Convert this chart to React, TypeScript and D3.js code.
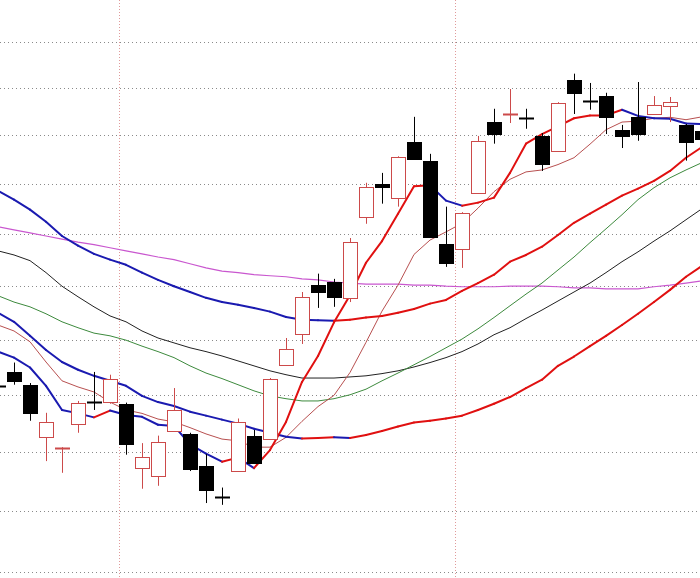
import React from "react";
import * as d3 from "d3";

const W = 700;
const H = 578;

// horizontal grid prices (log scale)
const gridPrices = [27, 28, 29, 30, 31, 32, 33, 34, 35, 36, 37];
// candle indices where a new month starts (vertical separators)
const monthStarts = [8, 29];

// OHLC
const open = [30.16, 30.41, 30.18, 29.26, 29.06, 29.49, 29.87, 29.87, 29.84, 28.73, 28.59, 29.36, 29.31, 28.76, 28.23, 28.67, 29.28, 29.22, 30.54, 31.11, 32.02, 32.08, 31.78, 33.35, 34.01, 33.73, 34.87, 34.48, 32.82, 32.72, 33.83, 35.28, 35.44, 35.37, 34.99, 34.68, 36.18, 35.73, 35.83, 35.12, 35.39, 35.45, 35.62, 35.22, 35.09];
const high = [30.20, 30.58, 30.21, 29.68, 29.08, 29.89, 30.41, 30.36, 29.86, 29.15, 29.28, 30.12, 29.33, 28.96, 28.39, 29.58, 29.38, 30.30, 31.03, 31.89, 32.24, 32.14, 32.93, 34.03, 34.23, 34.57, 35.39, 34.62, 33.55, 33.44, 34.99, 35.56, 35.98, 35.56, 35.05, 35.70, 36.31, 36.11, 35.90, 35.22, 36.13, 35.83, 35.81, 35.24, 35.14];
const low = [30.10, 30.18, 29.54, 28.84, 28.64, 29.33, 29.73, 29.84, 28.95, 28.37, 28.42, 29.35, 28.67, 28.13, 28.10, 28.66, 28.79, 29.21, 30.53, 30.92, 31.59, 31.61, 31.70, 33.21, 33.61, 33.55, 34.51, 32.94, 32.37, 32.35, 33.82, 34.83, 35.26, 35.14, 34.27, 34.67, 35.45, 35.54, 35.03, 34.74, 34.89, 35.44, 35.28, 34.48, 34.80];
const close = [30.16, 30.25, 29.68, 29.52, 29.07, 29.86, 29.87, 30.29, 29.14, 28.91, 29.17, 29.73, 28.71, 28.35, 28.23, 29.52, 28.81, 30.29, 30.83, 31.80, 31.89, 31.80, 32.85, 33.95, 33.95, 34.56, 34.52, 32.95, 32.45, 33.43, 34.89, 35.03, 35.45, 35.37, 34.42, 35.69, 35.90, 35.73, 35.39, 34.99, 35.03, 35.64, 35.71, 34.87, 34.93];

// moving averages
const maFast = [30.78, 30.67, 30.49, 30.16, 29.73, 29.67, 29.60, 29.72, 29.64, 29.61, 29.47, 29.45, 29.13, 28.97, 28.83, 28.90, 28.72, 29.03, 29.52, 30.23, 30.70, 31.32, 31.83, 32.45, 32.87, 33.41, 33.96, 33.98, 33.67, 33.57, 33.63, 33.73, 34.23, 34.83, 35.03, 35.19, 35.36, 35.42, 35.42, 35.54, 35.41, 35.36, 35.35, 35.25, 35.24];
const maTen = [31.27, 31.16, 30.96, 30.59, 30.25, 30.14, 30.05, 29.87, 29.73, 29.67, 29.57, 29.52, 29.42, 29.31, 29.22, 29.19, 29.08, 29.08, 29.25, 29.53, 29.79, 29.99, 30.40, 30.95, 31.53, 32.02, 32.61, 32.89, 33.05, 33.22, 33.52, 33.85, 34.10, 34.25, 34.29, 34.40, 34.54, 34.82, 35.12, 35.28, 35.30, 35.36, 35.38, 35.33, 35.39];
const maLow = [31.50, 31.33, 31.07, 30.81, 30.59, 30.45, 30.34, 30.25, 30.16, 29.98, 29.87, 29.80, 29.70, 29.63, 29.56, 29.49, 29.40, 29.33, 29.26, 29.23, 29.24, 29.25, 29.24, 29.29, 29.36, 29.44, 29.51, 29.54, 29.58, 29.63, 29.73, 29.84, 29.96, 30.12, 30.27, 30.52, 30.69, 30.88, 31.07, 31.27, 31.48, 31.70, 31.93, 32.18, 32.39];
const maHigh = [33.87, 33.69, 33.49, 33.25, 32.97, 32.78, 32.62, 32.51, 32.41, 32.26, 32.12, 32.00, 31.89, 31.78, 31.70, 31.65, 31.59, 31.52, 31.42, 31.37, 31.36, 31.35, 31.37, 31.41, 31.44, 31.50, 31.57, 31.67, 31.74, 31.91, 32.06, 32.22, 32.47, 32.60, 32.76, 32.99, 33.23, 33.41, 33.59, 33.77, 33.91, 34.07, 34.27, 34.54, 34.76];
const maGreen = [31.82, 31.70, 31.61, 31.48, 31.33, 31.22, 31.12, 31.07, 30.99, 30.88, 30.78, 30.67, 30.52, 30.39, 30.29, 30.18, 30.07, 29.98, 29.93, 29.89, 29.89, 29.93, 30.00, 30.10, 30.25, 30.39, 30.54, 30.69, 30.85, 31.01, 31.20, 31.41, 31.63, 31.85, 32.06, 32.31, 32.56, 32.84, 33.11, 33.39, 33.69, 33.93, 34.13, 34.29, 34.44];
const maBlack = [32.68, 32.60, 32.49, 32.26, 32.00, 31.80, 31.61, 31.44, 31.33, 31.16, 31.03, 30.94, 30.85, 30.78, 30.70, 30.61, 30.52, 30.43, 30.36, 30.30, 30.30, 30.30, 30.32, 30.34, 30.38, 30.43, 30.50, 30.58, 30.67, 30.78, 30.92, 31.09, 31.22, 31.39, 31.55, 31.72, 31.89, 32.06, 32.26, 32.47, 32.66, 32.87, 33.07, 33.29, 33.51];
const maMagenta = [33.15, 33.09, 33.03, 32.97, 32.91, 32.85, 32.80, 32.74, 32.68, 32.62, 32.56, 32.51, 32.43, 32.35, 32.29, 32.26, 32.22, 32.20, 32.18, 32.14, 32.12, 32.08, 32.06, 32.04, 32.04, 32.04, 32.02, 32.02, 32.00, 31.99, 31.99, 31.99, 32.00, 32.00, 32.00, 31.99, 31.97, 31.97, 31.95, 31.95, 31.95, 31.99, 32.02, 32.06, 32.10];

const UP = "#e01010";
const DOWN = "#1a1ab0";
const CANDLE_UP = "#cc4a4a";

export default function App() {
  const n = open.length;
  const x = d3.scaleLinear().domain([0, n - 1]).range([-2, 702]);
  const y = d3.scaleLog().domain([27, 37]).range([572, 42]);
  const half = 7;

  const thinLine = d3
    .line<number>()
    .x((_, i) => x(i))
    .y((d) => y(d));

  const thick = (vals: number[], key: string) =>
    vals.slice(1).map((v, i) => (
      <line
        key={key + i}
        x1={x(i)}
        y1={y(vals[i])}
        x2={x(i + 1)}
        y2={y(v)}
        stroke={v >= vals[i] ? UP : DOWN}
        strokeWidth={2}
        strokeLinecap="round"
      />
    ));

  return (
    <svg
      width={W}
      height={H}
      style={{ position: "absolute", left: 0, top: 0, background: "#fff" }}
    >
      <rect x={0} y={0} width={W} height={H} fill="#fff" />
      {gridPrices.map((p) => {
        const yy = Math.round(y(p)) + 0.5;
        return (
          <line
            key={"g" + p}
            x1={0}
            x2={W}
            y1={yy}
            y2={yy}
            stroke="#8a8a8a"
            strokeWidth={1}
            strokeDasharray="1,3"
          />
        );
      })}
      {monthStarts.map((i) => {
        const xx = Math.round(x(i) - half) + 0.5;
        return (
          <line
            key={"m" + i}
            x1={xx}
            x2={xx}
            y1={0}
            y2={H}
            stroke="#e09a9a"
            strokeWidth={1}
            strokeDasharray="1,2"
          />
        );
      })}

      <path d={thinLine(maMagenta) || ""} fill="none" stroke="#c957cf" strokeWidth={1.2} />
      <path d={thinLine(maBlack) || ""} fill="none" stroke="#222" strokeWidth={1} />
      <path d={thinLine(maGreen) || ""} fill="none" stroke="#3d8a3d" strokeWidth={1} />
      <path d={thinLine(maTen) || ""} fill="none" stroke="#b85050" strokeWidth={1} />
      {thick(maHigh, "h")}
      {thick(maLow, "l")}
      {thick(maFast, "f")}

      {open.map((o, i) => {
        const c = close[i];
        const isUp = c > o;
        const color = isUp ? CANDLE_UP : "#000";
        const cx = Math.round(x(i)) + 0.5;
        const left = Math.round(x(i) - half) + 0.5;
        const yo = y(o);
        const yc = y(c);
        const top = Math.round(Math.min(yo, yc)) + 0.5;
        const bot = Math.round(Math.max(yo, yc)) + 0.5;
        const doji = bot - top < 1.5;
        return (
          <g key={"c" + i}>
            <line
              x1={cx}
              x2={cx}
              y1={y(high[i])}
              y2={y(low[i])}
              stroke={color}
              strokeWidth={1}
            />
            {doji ? (
              <rect
                x={left - 0.5}
                y={top - 1}
                width={2 * half + 1}
                height={2}
                fill={color}
              />
            ) : (
              <rect
                x={left}
                y={top}
                width={2 * half}
                height={bot - top}
                fill={isUp ? "#fff" : "#000"}
                stroke={color}
                strokeWidth={1}
              />
            )}
          </g>
        );
      })}
    </svg>
  );
}
